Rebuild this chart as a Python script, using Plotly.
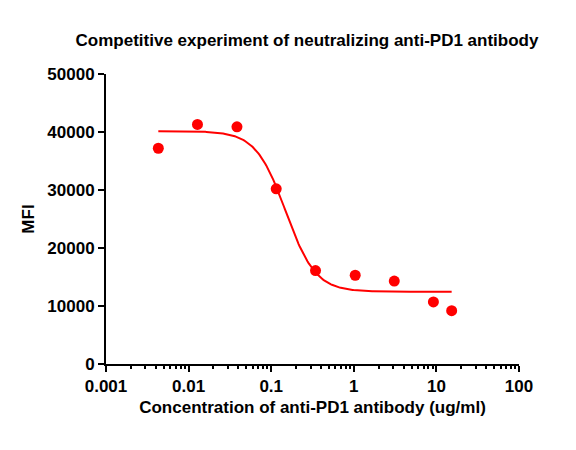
import numpy as np
import plotly.graph_objects as go

# Measured data points
conc = [0.0043, 0.0128, 0.0385, 0.115, 0.344, 1.04, 3.09, 9.2, 15.3]
mfi = [37200, 41300, 40900, 30200, 16100, 15300, 14300, 10700, 9200]

# 4PL fit parameters
fit_top = 40150
fit_bottom = 12450
fit_ic50 = 0.15
fit_hill = 2.4

x_major = [0.001, 0.01, 0.1, 1, 10, 100]
x_major_labels = ["0.001", "0.01", "0.1", "1", "10", "100"]
y_ticks = [0, 10000, 20000, 30000, 40000, 50000]

title_text = "Competitive experiment of neutralizing anti-PD1 antibody"
x_title = "Concentration of anti-PD1 antibody (ug/ml)"
y_title = "MFI"

xf = np.logspace(np.log10(conc[0]), np.log10(conc[-1]), 300)
yf = fit_bottom + (fit_top - fit_bottom) / (1 + (xf / fit_ic50) ** fit_hill)

minor_vals = [m * 10.0 ** d for d in range(-3, 2) for m in range(2, 10)]

FONT = "Arial, Liberation Sans, sans-serif"
RED = "#ff0000"

fig = go.Figure()
fig.add_trace(go.Scatter(x=xf, y=yf, mode="lines",
                         line=dict(color=RED, width=2), hoverinfo="skip",
                         showlegend=False))
fig.add_trace(go.Scatter(x=conc, y=mfi, mode="markers",
                         marker=dict(color=RED, size=11, line=dict(width=0)),
                         showlegend=False))

fig.update_layout(
    width=576, height=450,
    margin=dict(l=106, r=57, t=74, b=86),
    paper_bgcolor="white", plot_bgcolor="white",
    font=dict(family=FONT, color="black"),
    title=dict(text="<b>" + title_text + "</b>", x=0.533, xanchor="center",
               y=1 - 40 / 450, yanchor="middle",
               font=dict(size=17, family=FONT, color="black")),
)
fig.update_xaxes(
    type="log", range=[-3, 2],
    tickmode="array", tickvals=x_major,
    ticktext=["<b>" + t + "</b>" for t in x_major_labels],
    tickfont=dict(size=17, family=FONT, color="black"),
    ticks="outside", ticklen=6, tickwidth=2, tickcolor="black",
    minor=dict(tickmode="array", tickvals=minor_vals, ticks="outside",
               ticklen=3, tickwidth=1.5, tickcolor="black", showgrid=False),
    showline=True, linecolor="black", linewidth=2,
    showgrid=False, zeroline=False,
    title=dict(text="<b>" + x_title + "</b>", standoff=6,
               font=dict(size=17, family=FONT, color="black")),
)
fig.update_yaxes(
    range=[0, 50000],
    tickmode="array", tickvals=y_ticks,
    ticktext=["<b>" + str(v) + "</b>" for v in y_ticks],
    tickfont=dict(size=17, family=FONT, color="black"),
    ticks="outside", ticklen=6, tickwidth=2, tickcolor="black",
    showline=True, linecolor="black", linewidth=2,
    showgrid=False, zeroline=False,
    title=dict(text="<b>" + y_title + "</b>", standoff=8,
               font=dict(size=17, family=FONT, color="black")),
)

fig.write_html("out.html")
